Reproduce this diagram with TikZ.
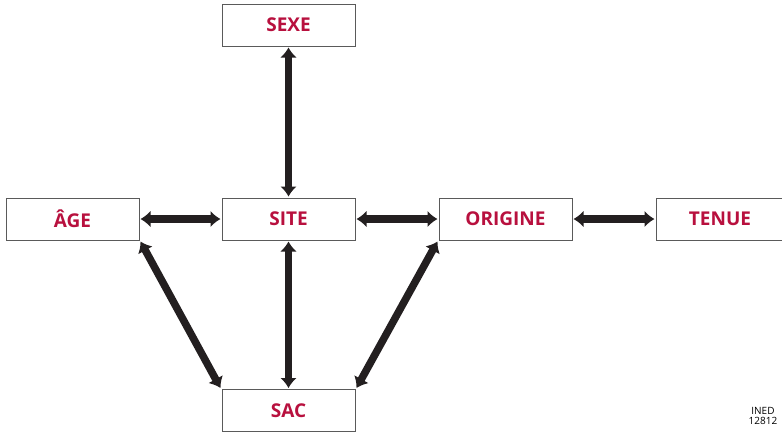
\documentclass[tikz,border=0pt]{standalone}
\usepackage{fontspec}
\setmainfont{Open Sans}
\usepackage{tikz}
\usetikzlibrary{arrows.meta}
\tikzset{>={Latex[width=17pt,length=10pt]}}
\usepackage{xcolor}
\definecolor{rouge}{HTML}{B8103E}
\definecolor{cadre}{HTML}{5A5A5A}
\definecolor{fleche}{HTML}{231F20}
\tikzset{
	boite/.style={draw=cadre, line width=0.9pt, fill=white, minimum width=133pt, minimum height=42pt, inner sep=0pt, outer sep=1.5pt, text=rouge, font=\fontsize{19}{20}\selectfont\bfseries},
	lien/.style={<->, line width=7.5pt, color=fleche}
}

\begin{document}
\begin{tikzpicture}[x=1pt, y=-1pt]
		\clip (0,0) rectangle (782,432);
		%les boites
		\node[boite] (sexe) at (288.5,25) {SEXE};
		\node[boite] (age) at (72.5,219) {ÂGE};
		\node[boite] (site) at (288.5,219) {SITE};
		\node[boite] (origine) at (505.5,219) {ORIGINE};
		\node[boite, minimum width=128pt] (tenue) at (720,219) {TENUE};
		\node[boite] (sac) at (288.5,410.5) {SAC};
		%les fleches
		\draw[lien] (sexe) -- (site);
		\draw[lien] (age) -- (site);
		\draw[lien] (site) -- (origine);
		\draw[lien] (origine) -- (tenue);
		\draw[lien] (site) -- (sac);
		\draw[lien] (age.south east) -- (sac.north west);
		\draw[lien] (origine.south west) -- (sac.north east);
		%reference
		\node[font=\fontsize{10}{10.5}\selectfont, align=center, inner sep=0pt] (ined) at (763,416) {INED\\12812};
	\end{tikzpicture}
\end{document}
